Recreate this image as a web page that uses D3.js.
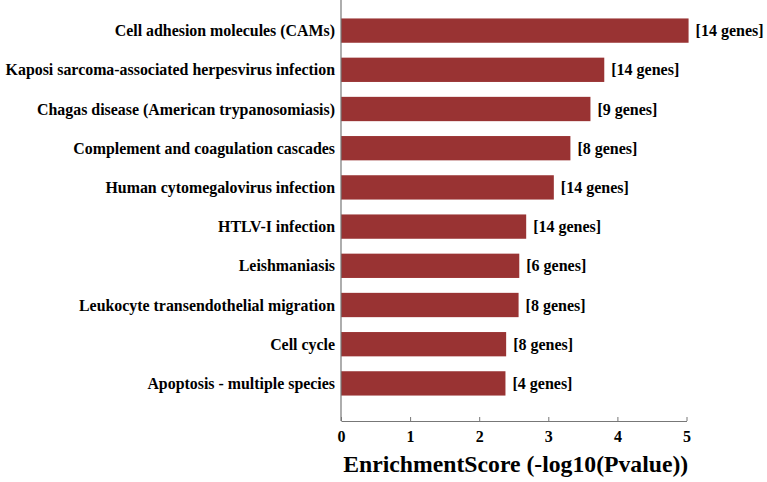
<!DOCTYPE html>
<html>
<script src='https://d3js.org/d3.v7.min.js'></script>
<style>
 body {margin: 0; background: white;}
</style>
<body onload='init()'>
<svg width=767 height=482>
</svg>
<script>

// pathways, top to bottom
var terms = ['Cell adhesion molecules (CAMs)',
 'Kaposi sarcoma-associated herpesvirus infection',
 'Chagas disease (American trypanosomiasis)',
 'Complement and coagulation cascades',
 'Human cytomegalovirus infection',
 'HTLV-I infection',
 'Leishmaniasis',
 'Leukocyte transendothelial migration',
 'Cell cycle',
 'Apoptosis - multiple species'];
var scores = [5.03, 3.81, 3.61, 3.32, 3.08, 2.68, 2.58, 2.57, 2.39, 2.38];
var genes = [14, 14, 9, 8, 14, 14, 6, 8, 8, 4];
var ticks = [0, 1, 2, 3, 4, 5];

var serif = 'Liberation Serif';

function init() {

 var svg = d3.select('svg')
   .attr('font-family', serif)
   .attr('font-weight', 'bold');
 var x = d3.scaleLinear().domain([0, 5]).range([341, 686.5]);
 var y = d3.scaleBand().domain(terms).range([11, 403])
   .paddingInner(0.38).paddingOuter(0.19);
 var axisY = 421;

 svg.selectAll('rect.bar')
  .data(terms)
  .enter()
   .append('rect')
    .attr('class', 'bar')
    .attr('x', x(0))
    .attr('y', function (d) { return y(d); })
    .attr('width', function (d, i) { return x(scores[i]) - x(0); })
    .attr('height', y.bandwidth())
    .style('fill', '#993333');

 // gene counts after bars
 svg.selectAll('text.cnt')
  .data(terms)
  .enter()
   .append('text')
    .attr('class', 'cnt')
    .attr('x', function (d, i) { return x(scores[i]) + 7; })
    .attr('y', function (d) { return y(d) + y.bandwidth() / 2; })
    .attr('dy', '0.35em')
    .attr('font-size', 16)
    .text(function (d, i) { return '[' + genes[i] + ' genes]'; });

 // category labels
 svg.selectAll('text.lab')
  .data(terms)
  .enter()
   .append('text')
    .attr('class', 'lab')
    .attr('x', 335)
    .attr('y', function (d) { return y(d) + y.bandwidth() / 2; })
    .attr('dy', '0.35em')
    .attr('text-anchor', 'end')
    .attr('font-size', 15.9)
    .text(function (d) { return d; });

 // y axis line
 svg.append('line')
  .attr('x1', x(0)).attr('x2', x(0))
  .attr('y1', 0).attr('y2', axisY)
  .style('stroke', '#777').style('stroke-width', 1.2);

 var gx = svg.append('g')
  .attr('transform', 'translate(0,' + axisY + ')')
  .call(d3.axisBottom(x).tickValues(ticks).tickFormat(d3.format('d'))
    .tickSizeInner(-4).tickSizeOuter(0).tickPadding(10));
 gx.attr('font-family', serif).attr('font-size', 16);
 gx.select('.domain').style('stroke', '#777').style('stroke-width', 1.2);
 gx.selectAll('.tick line').style('stroke', '#777');
 gx.selectAll('.tick text').attr('fill', 'black');

 svg.append('text')
  .attr('x', (x(0) + x(5)) / 2 + 2)
  .attr('y', 472)
  .attr('text-anchor', 'middle')
  .attr('font-size', 23.7)
  .text('EnrichmentScore (-log10(Pvalue))');
}

</script>
</body>
</html>
